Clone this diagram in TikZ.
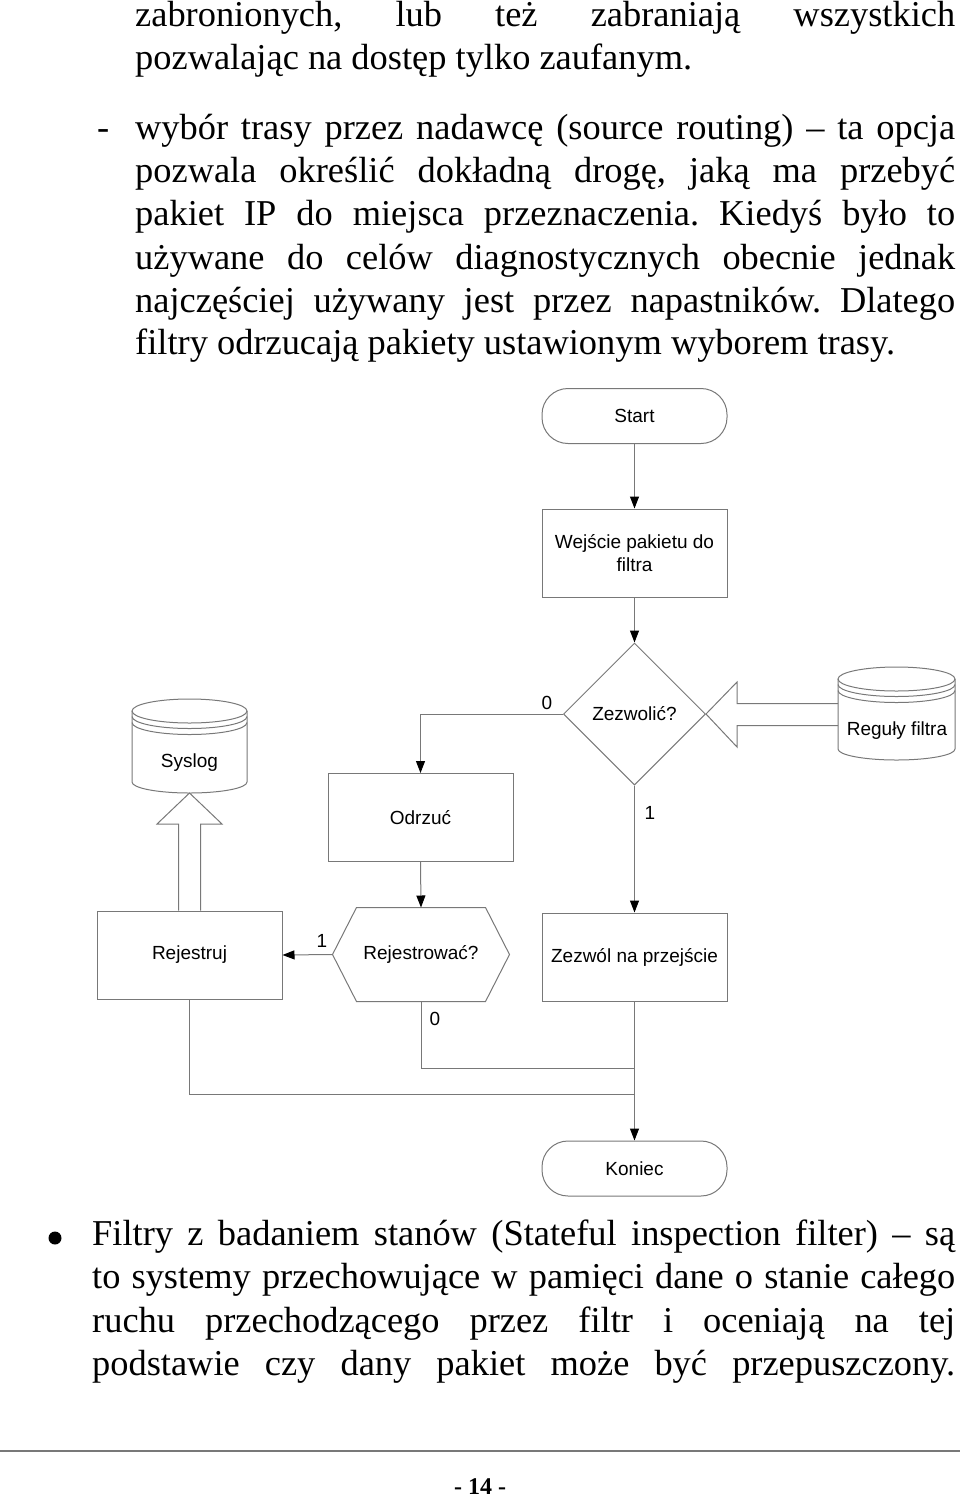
\documentclass[tikz,border=0pt]{standalone}
\usepackage{fontspec}
\setmainfont{Liberation Serif}
\newfontfamily\flowfont{Liberation Sans}
\usetikzlibrary{arrows.meta,shapes.geometric}
\definecolor{linegray}{RGB}{120,120,120}
\frenchspacing
\begin{document}
\begin{tikzpicture}[x=1pt,y=-1pt,
  line/.style={draw=linegray, line width=1pt},
  arr/.style={line, -{Triangle[length=12pt,width=9pt,color=black]}},
  ff/.style={font=\flowfont\fontsize{19}{23}\selectfont},
  box/.style={line, ff, rectangle, minimum width=185pt, minimum height=88pt, inner sep=0pt, align=center},
  term/.style={box, minimum height=55pt, rounded corners=26pt},
  lbl/.style={ff, inner sep=0pt},
  body/.style={anchor=base west, inner sep=0pt, font=\fontsize{36.4}{43}\selectfont},
]
\useasboundingbox (0,0) rectangle (960,1499);

% ---------- body text (top) ----------
\node[body] (t1) at (135,26) {\makebox[820pt][s]{zabronionych, lub też zabraniają wszystkich}};
\node[body] (t2) at (135,69) {pozwalając na dostęp tylko zaufanym.};
\node[body] (dash) at (97,139) {-};
\node[body] (t3) at (135,139) {\makebox[820pt][s]{wybór trasy przez nadawcę (source routing) – ta opcja}};
\node[body] (t4) at (135,182) {\makebox[820pt][s]{pozwala określić dokładną drogę, jaką ma przebyć}};
\node[body] (t5) at (135,225) {\makebox[820pt][s]{pakiet IP do miejsca przeznaczenia. Kiedyś było to}};
\node[body] (t6) at (135,269) {\makebox[820pt][s]{używane do celów diagnostycznych obecnie jednak}};
\node[body] (t7) at (135,312) {\makebox[820pt][s]{najczęściej używany jest przez napastników. Dlatego}};
\node[body] (t8) at (135,354) {filtry odrzucają pakiety ustawionym wyborem trasy.};

% ---------- flowchart ----------
\node[term] (start) at (634.5,416) {Start};
\node[box] (wej) at (634.5,553) {Wejście pakietu do\\filtra};
\node[line, ff, diamond, minimum width=142pt, minimum height=142pt, inner sep=0pt] (dec) at (634.5,714) {Zezwolić?};
\node[box] (odr) at (420.5,817.5) {Odrzuć};
\node[box, draw=none, minimum width=176pt, minimum height=93pt] (rej) at (421,954.5) {Rejestrować?};
\draw[line] (rej.west) -- ([xshift=24pt]rej.north west) -- ([xshift=-24pt]rej.north east) -- (rej.east) -- ([xshift=-24pt]rej.south east) -- ([xshift=24pt]rej.south west) -- cycle;
\node[box] (rejtr) at (189.5,955) {Rejestruj};
\node[box] (zez) at (634.5,957) {Zezwól na przejście};
\node[term] (kon) at (634.5,1168.5) {Koniec};

% Syslog cylinder
\draw[line] (189.5,711) ellipse [x radius=57.5pt, y radius=12pt];
\draw[line] (132,716.5) arc[start angle=180, end angle=360, x radius=57.5pt, y radius=12pt];
\draw[line] (132,722.5) arc[start angle=180, end angle=360, x radius=57.5pt, y radius=12pt];
\draw[line] (132,711) -- (132,782) arc[start angle=180, end angle=360, x radius=57.5pt, y radius=11pt] -- (247,711);
\node[lbl] (syslog) at (189.5,763) {Syslog};
\coordinate (sysbot) at (189.5,793);

% Reguly filtra cylinder
\draw[line] (896.5,679) ellipse [x radius=58.5pt, y radius=12pt];
\draw[line] (838,684.5) arc[start angle=180, end angle=360, x radius=58.5pt, y radius=12pt];
\draw[line] (838,690.5) arc[start angle=180, end angle=360, x radius=58.5pt, y radius=12pt];
\draw[line] (838,679) -- (838,749) arc[start angle=180, end angle=360, x radius=58.5pt, y radius=11pt] -- (955,679);
\node[lbl] (reg) at (897,731) {Reguły filtra};
\coordinate (regleft) at (838,714.5);

% block arrows
\draw[line] ([xshift=-11pt]rejtr.north) |- (157,824) -- (sysbot) -- (222,824) -| ([xshift=11pt]rejtr.north);
\draw[line] ([yshift=11pt]regleft) -- (737,703.5) -- (737,682) -- (dec.east) -- (737,747) -- (737,725.5) -- ([yshift=-11pt]regleft);

% connectors
\coordinate (j1) at (634.5,1068);
\coordinate (j2) at (634.5,1094);
\draw[arr] (start) -- (wej);
\draw[arr] (wej) -- (dec);
\draw[arr] (dec.west) -| (odr.north);
\draw[arr] (dec.south) -- (zez.north);
\draw[arr] (odr.south) -- (rej.north);
\draw[arr] (rej.west) -- (rejtr.east);
\draw[line] (rej.south) |- (j1);
\draw[line] (rejtr.south) |- (j2);
\draw[arr] (zez.south) -- (kon.north);
\node[lbl] (l0a) at (547,703) {0};
\node[lbl] (l1a) at (650,813) {1};
\node[lbl] (l1b) at (322,941) {1};
\node[lbl] (l0b) at (435,1019) {0};

% ---------- body text (bottom) ----------
\node[circle, fill=black, inner sep=0pt, minimum size=13pt] (bullet) at (55,1238) {};
\node[body] (b1) at (92,1245) {\makebox[863pt][s]{Filtry z badaniem stanów (Stateful inspection filter) – są}};
\node[body] (b2) at (92,1288) {\makebox[863pt][s]{to systemy przechowujące w pamięci dane o stanie całego}};
\node[body] (b3) at (92,1332) {\makebox[863pt][s]{ruchu przechodzącego przez filtr i oceniają na tej}};
\node[body] (b4) at (92,1375) {\makebox[863pt][s]{podstawie czy dany pakiet może być przepuszczony.}};

% ---------- footer ----------
\draw[draw=linegray, line width=2pt] (0,1451) -- (960,1451);
\node[anchor=base, inner sep=0pt, font=\bfseries\fontsize{24}{28}\selectfont] (pg) at (480,1494) {- 14 -};
\end{tikzpicture}
\end{document}
